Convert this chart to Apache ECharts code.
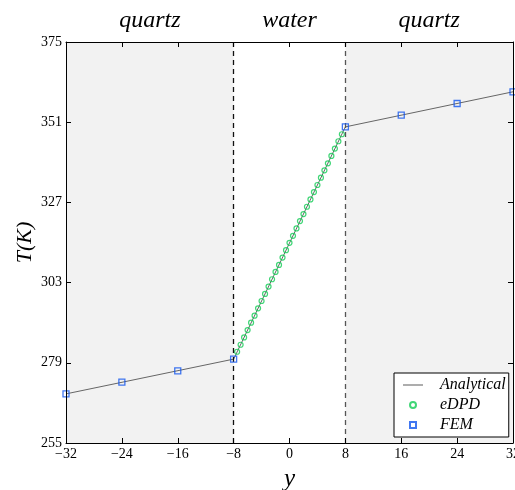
<!DOCTYPE html>
<html><head><meta charset="utf-8">
<script src="https://cdn.jsdelivr.net/npm/echarts@6/dist/echarts.min.js"></script>
<style>html,body{margin:0;padding:0;background:#fff}#c{width:515px;height:490px}</style>
</head><body><div id="c"></div>
<script>
var xTicks = [-32, -24, -16, -8, 0, 8, 16, 24, 32];
var yTicks = [255, 279, 303, 327, 351, 375];
var regionNames = ['quartz', 'water', 'quartz'];
var regionBounds = [[-32, -8], [-8, 8], [8, 32]];
var interfaces = [-8, 8];
var analyticalY = [-32, -8, 8, 32];
var analyticalT = [269.7, 280.1, 349.6, 360.1];
var femY = [-32, -24, -16, -8, 8, 16, 24, 32];
var femT = [269.7, 273.2, 276.6, 280.1, 349.6, 353.1, 356.6, 360.1];
var edpdY = [-7.5, -7.0, -6.5, -6.0, -5.5, -5.0, -4.5, -4.0, -3.5, -3.0, -2.5, -2.0, -1.5, -1.0, -0.5, 0,
             0.5, 1.0, 1.5, 2.0, 2.5, 3.0, 3.5, 4.0, 4.5, 5.0, 5.5, 6.0, 6.5, 7.0, 7.5];
var edpdT = [282.3, 284.4, 286.6, 288.8, 291.0, 293.1, 295.3, 297.5, 299.6, 301.8, 304.0, 306.2, 308.3, 310.5, 312.7, 314.9,
             317.0, 319.2, 321.4, 323.5, 325.7, 327.9, 330.1, 332.2, 334.4, 336.6, 338.7, 340.9, 343.1, 345.3, 347.4];

var serif = '"Liberation Serif", "DejaVu Serif", serif';
function zip(a, b) { return a.map(function (v, i) { return [v, b[i]]; }); }
function minus(v) { return String(v).replace('-', '\u2212'); }

var xMin = xTicks[0], xMax = xTicks[xTicks.length - 1];
var yMin = yTicks[0], yMax = yTicks[yTicks.length - 1];
var xInt = xTicks[1] - xTicks[0], yInt = yTicks[1] - yTicks[0];

var areaColors = ['#f2f2f2', 'rgba(255,255,255,0)', '#f2f2f2'];
var markAreaData = regionBounds.map(function (b, i) {
  return [{ xAxis: b[0], yAxis: yMin, name: regionNames[i], itemStyle: { color: areaColors[i] } },
          { xAxis: b[1], yAxis: yMax }];
});
var squarePath = 'path://M0,0L10,0L10,10L0,10Z';
var dashPath = 'path://M0,0L20,0L20,1.6L0,1.6Z';

var chart = echarts.init(document.getElementById('c'), null, { renderer: 'canvas' });
var axisCommon = {
  type: 'value', z: 10,
  axisLine: { show: true, onZero: false, lineStyle: { color: '#000', width: 1 } },
  axisTick: { show: true, inside: true, length: 5, lineStyle: { color: '#000' } },
  splitLine: { show: false }
};
chart.setOption({
  animation: false,
  backgroundColor: '#fff',
  grid: { left: 66, top: 42, right: 2, bottom: 47, containLabel: false, outerBoundsMode: 'none' },
  xAxis: [
    Object.assign({}, axisCommon, {
      min: xMin, max: xMax, interval: xInt, position: 'bottom',
      name: 'y', nameLocation: 'middle', nameGap: 24, nameMoveOverlap: false,
      nameTextStyle: { fontFamily: serif, fontStyle: 'italic', fontSize: 25, color: '#000' },
      axisLabel: { fontFamily: serif, fontSize: 14, color: '#000', margin: 4, formatter: minus, hideOverlap: false }
    }),
    Object.assign({}, axisCommon, {
      min: xMin, max: xMax, interval: xInt, position: 'top', axisLabel: { show: false }
    })
  ],
  yAxis: [
    Object.assign({}, axisCommon, {
      min: yMin, max: yMax, interval: yInt, position: 'left',
      name: 'T(K)', nameLocation: 'middle', nameGap: 30, nameRotate: 90, nameMoveOverlap: false,
      nameTextStyle: { fontFamily: serif, fontStyle: 'italic', fontSize: 22, color: '#000' },
      axisLabel: { fontFamily: serif, fontSize: 14, color: '#000', margin: 4 }
    }),
    Object.assign({}, axisCommon, {
      min: yMin, max: yMax, interval: yInt, position: 'right', axisLabel: { show: false }
    })
  ],
  legend: {
    orient: 'vertical', left: 394, top: 373, z: 20,
    backgroundColor: '#fff', borderColor: '#000', borderWidth: 1, borderRadius: 0,
    padding: [4, 3, 4, 9], itemGap: 4, itemWidth: 20, itemHeight: 6,
    textStyle: { fontFamily: serif, fontStyle: 'italic', fontSize: 16, color: '#000', padding: [0, 0, 0, 12] },
    data: [
      { name: 'Analytical', icon: dashPath, itemStyle: { color: '#999', borderWidth: 0 } },
      { name: 'eDPD' },
      { name: 'FEM', icon: squarePath }
    ]
  },
  series: [
    {
      name: 'regions', type: 'line', data: [], silent: true, z: 1,
      markArea: {
        silent: true,
        label: { show: true, position: 'top', distance: 9, fontFamily: serif, fontStyle: 'italic', fontSize: 24, color: '#000' },
        data: markAreaData
      },
      markLine: {
        silent: true, symbol: 'none',
        label: { show: false },
        lineStyle: { type: [5, 4], width: 1.3, color: '#111' },
        data: interfaces.map(function (v, i) { return { xAxis: v, lineStyle: { color: i === 0 ? '#111' : '#555' } }; })
      }
    },
    {
      name: 'Analytical', type: 'line', data: zip(analyticalY, analyticalT),
      symbol: 'none', lineStyle: { color: '#666', width: 1 }, itemStyle: { color: '#999' }, z: 3
    },
    {
      name: 'eDPD', type: 'scatter', data: zip(edpdY, edpdT),
      symbol: 'circle', symbolSize: 5,
      itemStyle: { color: 'rgba(255,255,255,0)', borderColor: '#11cc55', borderWidth: 1.2 }, z: 4
    },
    {
      name: 'FEM', type: 'scatter', data: zip(femY, femT),
      symbol: squarePath, symbolSize: 6,
      itemStyle: { color: 'rgba(255,255,255,0)', borderColor: '#1155ee', borderWidth: 1.3 }, z: 5
    }
  ]
});
</script></body></html>
